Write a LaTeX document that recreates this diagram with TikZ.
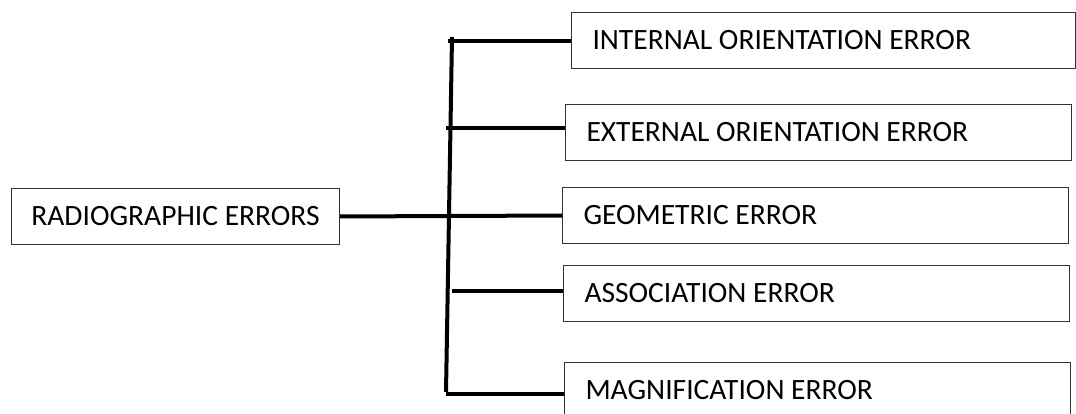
\documentclass[tikz,border=0pt]{standalone}
\usepackage{fontspec}
\setmainfont{Carlito}
\newcommand{\lbox}[2]{\makebox[#1][l]{#2}}
\begin{document}
\begin{tikzpicture}[x=1pt,y=-1pt,
  errbox/.style={draw=black!80,line width=1pt,fill=white,minimum height=56pt,
    inner xsep=21pt,inner ysep=0pt,anchor=north west,
    font=\fontsize{29.5}{34}\selectfont},
  link/.style={line width=4pt,black}]
\clip (0,0) rectangle (1076,414);
\fill[white] (0,0) rectangle (1076,414);
\node[errbox] (int) at (571,12) {\lbox{462pt}{INTERNAL ORIENTATION ERROR}};
\node[errbox] (ext) at (565,104) {\lbox{464pt}{EXTERNAL ORIENTATION ERROR}};
\node[errbox] (geo) at (562,187) {\lbox{464pt}{GEOMETRIC ERROR}};
\node[errbox] (ass) at (563,265) {\lbox{464pt}{ASSOCIATION ERROR}};
\node[errbox] (mag) at (564,362) {\lbox{464pt}{MAGNIFICATION ERROR}};
\node[errbox,inner xsep=0pt] (rad) at (11,188) {\makebox[328pt][c]{RADIOGRAPHIC ERRORS}};
\coordinate (vtop) at (452,37);
\coordinate (vbot) at (446,392);
\coordinate (c1) at (448,41);
\coordinate (c2) at (446,128);
\coordinate (c4) at (452,291);
\coordinate (c5) at (446,394);
\draw[link] (vtop) -- (vbot);
\draw[link] (c1) -- (c1 -| int.west);
\draw[link] (c2) -- (c2 -| ext.west);
\draw[link] (rad.east) -- (geo.west);
\draw[link] (c4) -- (c4 -| ass.west);
\draw[link] (c5) -- (c5 -| mag.west);
\end{tikzpicture}
\end{document}
